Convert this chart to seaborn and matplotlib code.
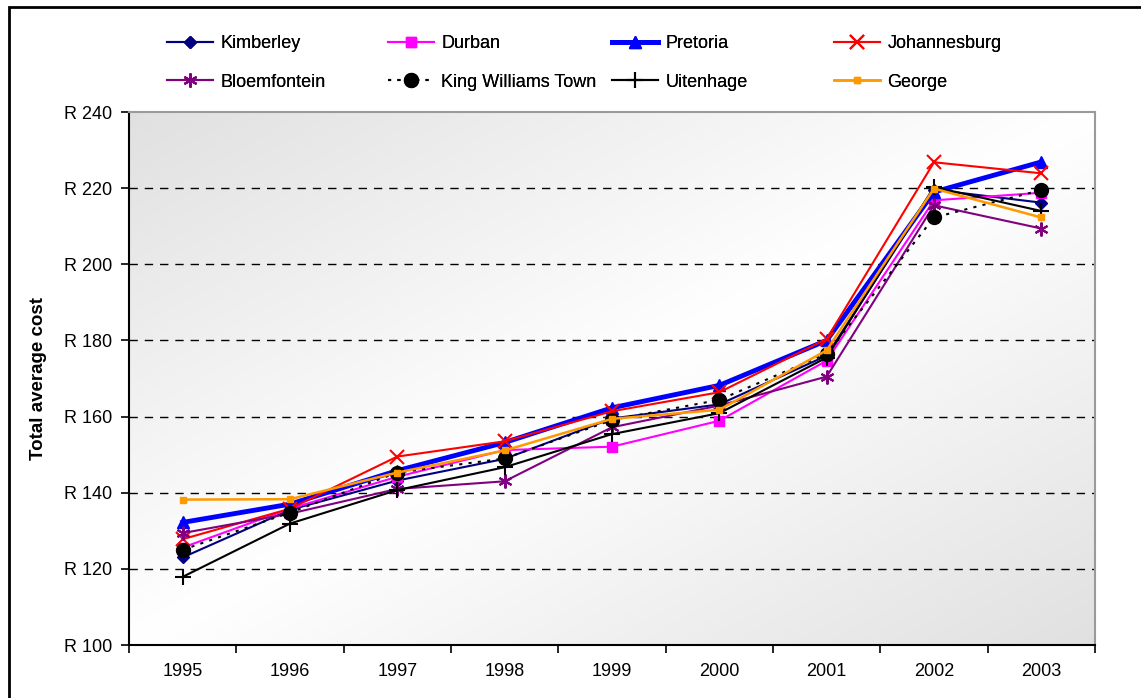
import numpy as np
import pandas as pd
import matplotlib.pyplot as plt
import seaborn as sns
from matplotlib.patches import Rectangle

# Datos
years = ['1995', '1996', '1997', '1998', '1999', '2000', '2001', '2002', '2003']
kimberley = [123.0, 135.5, 143.2, 148.9, 159.5, 163.2, 176.0, 219.6, 216.2]
durban = [125.6, 135.8, 144.2, 151.2, 152.1, 158.9, 174.7, 216.8, 218.8]
pretoria = [132.2, 137.0, 145.8, 153.2, 162.3, 168.2, 180.0, 219.0, 226.9]
johannesburg = [127.8, 135.8, 149.5, 153.5, 161.4, 166.4, 180.4, 226.8, 223.9]
bloemfontein = [129.4, 134.5, 141.0, 143.0, 157.2, 162.9, 170.5, 215.5, 209.4]
king_williams = [125.0, 134.8, 145.3, 149.0, 159.1, 164.4, 176.5, 212.3, 219.5]
uitenhage = [117.9, 131.9, 140.7, 146.7, 155.4, 160.9, 175.5, 220.3, 214.0]
george = [138.2, 138.3, 145.3, 151.1, 159.4, 161.8, 177.4, 219.9, 212.3]

series = {
    'Kimberley': kimberley,
    'Durban': durban,
    'Pretoria': pretoria,
    'Johannesburg': johannesburg,
    'Bloemfontein': bloemfontein,
    'King Williams Town': king_williams,
    'Uitenhage': uitenhage,
    'George': george,
}

# estilo de cada serie: color, marcador, tamaño, grosor, guiones
styles = {
    'Kimberley': ('#000080', 'D', 6, 1.5, ''),
    'Durban': ('#FF00FF', 's', 7, 1.5, ''),
    'Pretoria': ('#0000FF', '^', 9, 3.5, ''),
    'Johannesburg': ('#FF0000', 'x', 10, 1.5, ''),
    'Bloemfontein': ('#800080', (6, 2, 0), 10, 1.5, ''),
    'King Williams Town': ('#000000', 'o', 10, 1.5, (1.5, 3)),
    'Uitenhage': ('#000000', '+', 11, 1.5, ''),
    'George': ('#FF9900', 's', 4, 1.8, ''),
}

plt.rcParams['font.family'] = ['Liberation Sans', 'DejaVu Sans']

fig = plt.figure(figsize=(11.41, 6.98), dpi=100)
ax = fig.add_axes([0.113, 0.0759, 0.8467, 0.7636])

# fondo degradado del area del grafico (blanco en la diagonal, gris en las esquinas)
gx, gy = np.meshgrid(np.linspace(0, 1, 300), np.linspace(1, 0, 300))
t = np.clip(np.abs(gx - gy), 0, 1)
g = 1.0 - t * (1.0 - 0.88)
ax.imshow(np.dstack([g, g, g]), extent=[0, 1, 0, 1], transform=ax.transAxes,
          aspect='auto', zorder=0, interpolation='bilinear')

x = np.arange(len(years))
for name, vals in series.items():
    color, marker, ms, lw, dash = styles[name]
    df = pd.DataFrame({'year': x, 'cost': vals})
    line_kw = dict(linestyle=(0, dash)) if dash else {}
    sns.lineplot(data=df, x='year', y='cost', ax=ax, color=color, marker=marker,
                 markersize=ms, linewidth=lw, markeredgecolor=color,
                 markeredgewidth=1.5 if marker in ('x', '+', (6, 2, 0)) else 1,
                 label=name, zorder=3, **line_kw)

ax.set_xlim(-0.5, len(years) - 0.5)
ax.set_ylim(100, 240)

ax.set_xticks(x)
ax.set_xticklabels(years)
ax.set_xticks(np.arange(-0.5, len(years)), minor=True)
ax.tick_params(axis='x', which='major', length=0, pad=13, labelsize=13)
ax.tick_params(axis='x', which='minor', length=6, width=1.2, direction='out')

yt = np.arange(100, 241, 20)
ax.set_yticks(yt)
ax.set_yticklabels([f'R {v}' for v in yt])
ax.tick_params(axis='y', length=6, width=1.2, direction='out', pad=6, labelsize=13)

for v in range(120, 221, 20):
    ax.axhline(v, color='black', linestyle=(0, (6, 5)), linewidth=1, zorder=1)

ax.set_xlabel('')
ax.set_ylabel('Total average cost', fontsize=13.5, fontweight='bold', labelpad=12)

for side in ['left', 'bottom']:
    ax.spines[side].set_color('black')
    ax.spines[side].set_linewidth(1.5)
for side in ['top', 'right']:
    ax.spines[side].set_color('#9a9a9a')
    ax.spines[side].set_linewidth(1.5)

handles, labels = ax.get_legend_handles_labels()
ax.get_legend().remove()

# leyenda en 4 columnas de igual ancho (una leyenda por columna)
col_x = [167, 388, 612, 834]
for c in range(4):
    idx = [c, c + 4]
    leg = fig.legend([handles[i] for i in idx], [labels[i] for i in idx],
                     loc='upper left', bbox_to_anchor=(col_x[c] / 1141, 1 - 35 / 698),
                     frameon=False, fontsize=13, handlelength=2.55,
                     labelspacing=1.2, handletextpad=0.4, borderpad=0,
                     borderaxespad=0)
    fig.add_artist(leg)

# borde exterior
fig.patches.append(Rectangle((0.008, -0.05), 1.1, 1.04, transform=fig.transFigure,
                             fill=False, edgecolor='black', linewidth=2))

fig.savefig('out.png', dpi=100)
